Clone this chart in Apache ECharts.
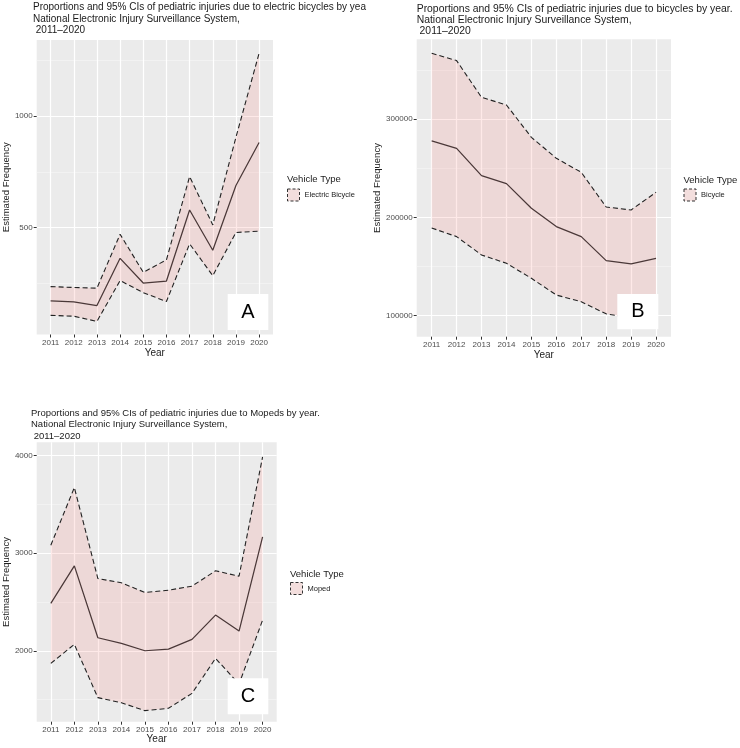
<!DOCTYPE html>
<html><head><meta charset="utf-8">
<script src="https://cdn.jsdelivr.net/npm/echarts@6/dist/echarts.min.js"></script>
<style>html,body{margin:0;padding:0;background:#fff}#c{width:740px;height:748px}</style>
</head><body><div id="c"></div>
<script>
// ---- data ----
const years = [2011, 2012, 2013, 2014, 2015, 2016, 2017, 2018, 2019, 2020];

const ebikeMean  = [171, 166, 150, 362, 251, 260, 579, 398, 689, 882];
const ebikeUpper = [235, 231, 228, 470, 299, 355, 729, 512, 905, 1283];
const ebikeLower = [106, 102, 79, 262, 208, 168, 427, 284, 478, 484];
const ebikeTicks = [500, 1000];
const ebikeMinor = [250, 750, 1250];

const bikeMean  = [277900, 270400, 242500, 234400, 209200, 190500, 180300, 155800, 152400, 158200];
const bikeUpper = [367300, 359900, 322400, 314600, 281600, 260200, 245900, 210500, 207500, 225500];
const bikeLower = [189100, 180300, 161600, 153100, 137800, 120700, 113900, 101500, 97500, 92000];
const bikeTicks = [100000, 200000, 300000];
const bikeMinor = [150000, 250000, 350000];

const mopedMean  = [2484, 2869, 2133, 2075, 2000, 2017, 2116, 2365, 2201, 3165];
const mopedUpper = [3080, 3670, 2739, 2695, 2596, 2620, 2661, 2818, 2763, 3983];
const mopedLower = [1871, 2065, 1520, 1468, 1387, 1411, 1564, 1922, 1660, 2313];
const mopedTicks = [2000, 3000, 4000];
const mopedMinor = [1500, 2500, 3500];

const titleA = 'Proportions and 95% CIs of pediatric injuries due to electric bicycles by yea\nNational Electronic Injury Surveillance System,\n 2011\u20132020';
const titleB = 'Proportions and 95% CIs of pediatric injuries due to bicycles by year.\nNational Electronic Injury Surveillance System,\n 2011\u20132020';
const titleC = 'Proportions and 95% CIs of pediatric injuries due to Mopeds by year.\nNational Electronic Injury Surveillance System,\n 2011\u20132020';

// ---- layout / style ----
const FONT = 'Liberation Sans';
const RIBBON = 'rgba(248,118,109,0.16)';
const panels = [
  { name: 'Electric Bicycle', letter: 'A', title: titleA, tfs: 10, tLeft: 33, tTop: 2,
    mean: ebikeMean, upper: ebikeUpper, lower: ebikeLower, ticks: ebikeTicks, minor: ebikeMinor,
    grid: { left: 33, top: 40, width: 240, height: 294.5 }, yMin: 20, yMax: 1342,
    yNameGap: 19, xNameGap: 14,
    leg: { left: 287, top: 188.5 }, legTitle: { left: 287, top: 174.5 },
    box: { x: 227.7, y: 294, w: 40.6, h: 36 } },
  { name: 'Bicycle', letter: 'B', title: titleB, tfs: 10.4, tLeft: 416.7, tTop: 3.5,
    mean: bikeMean, upper: bikeUpper, lower: bikeLower, ticks: bikeTicks, minor: bikeMinor,
    grid: { left: 416.7, top: 39.3, width: 254.3, height: 297.4 }, yMin: 78200, yMax: 381600,
    yNameGap: 27, xNameGap: 14,
    leg: { left: 683.5, top: 188.5 }, legTitle: { left: 683.5, top: 175.5 },
    box: { x: 617.3, y: 294, w: 41, h: 35.3 } },
  { name: 'Moped', letter: 'C', title: titleC, tfs: 9.5, tLeft: 31, tTop: 408,
    mean: mopedMean, upper: mopedUpper, lower: mopedLower, ticks: mopedTicks, minor: mopedMinor,
    grid: { left: 31.7, top: 442.3, width: 245, height: 279.4 }, yMin: 1274, yMax: 4133,
    yNameGap: 19, xNameGap: 13,
    leg: { left: 290, top: 582 }, legTitle: { left: 290, top: 569.5 },
    box: { x: 227.7, y: 678.3, w: 40.6, h: 36 } }
];

const pairs = (arr) => years.map((y, k) => [y, arr[k]]);
const fmt = (v) => String(v);

const option = {
  animation: false,
  backgroundColor: '#ffffff',
  textStyle: { fontFamily: FONT },
  title: [],
  legend: [],
  grid: [],
  xAxis: [],
  yAxis: [],
  series: [],
  graphic: []
};

panels.forEach((p, i) => {
  option.title.push({
    text: p.title, left: p.tLeft, top: p.tTop, padding: 0,
    textStyle: { fontSize: p.tfs, fontWeight: 'normal', color: '#1a1a1a', lineHeight: 11.2, fontFamily: FONT }
  });
  option.title.push({
    text: 'Vehicle Type', left: p.legTitle.left, top: p.legTitle.top, padding: 0,
    textStyle: { fontSize: 9.5, fontWeight: 'normal', color: '#222', fontFamily: FONT }
  });
  option.legend.push({
    data: [p.name], left: p.leg.left, top: p.leg.top, padding: 0,
    itemWidth: 12, itemHeight: 12, icon: 'rect', selectedMode: false,
    itemStyle: { color: '#F3DEDD', borderColor: '#333', borderWidth: 1, borderType: [3, 2] },
    textStyle: { fontSize: 7.5, color: '#222', fontFamily: FONT }
  });
  option.grid.push(Object.assign({ show: true, backgroundColor: '#EBEBEB', borderWidth: 0 }, p.grid));
  option.xAxis.push({
    gridIndex: i, type: 'value', min: 2010.4, max: 2020.6,
    name: 'Year', nameLocation: 'middle', nameGap: p.xNameGap,
    nameTextStyle: { fontSize: 10, color: '#222', fontFamily: FONT },
    axisLine: { show: false },
    axisTick: { show: true, length: 3, lineStyle: { color: '#333', width: 1 }, customValues: years },
    axisLabel: { customValues: years, formatter: fmt, fontSize: 8, color: '#4D4D4D', margin: 4, fontFamily: FONT },
    splitLine: { show: true, lineStyle: { color: '#ffffff', width: 1.2 } }
  });
  option.yAxis.push({
    gridIndex: i, type: 'value', min: p.yMin, max: p.yMax, position: 'left',
    name: 'Estimated Frequency', nameLocation: 'middle', nameRotate: 90, nameGap: p.yNameGap,
    nameTextStyle: { fontSize: 9.5, color: '#222', fontFamily: FONT },
    axisLine: { show: false },
    axisTick: { show: true, length: 3, lineStyle: { color: '#333', width: 1 }, customValues: p.ticks },
    axisLabel: { customValues: p.ticks, formatter: fmt, fontSize: 8, color: '#4D4D4D', margin: 4, fontFamily: FONT },
    splitLine: { show: true, lineStyle: { color: '#ffffff', width: 1.2 } }
  });
  option.yAxis.push({
    gridIndex: i, type: 'value', min: p.yMin, max: p.yMax, position: 'right',
    axisLine: { show: false },
    axisTick: { show: false, customValues: p.minor },
    axisLabel: { show: false, customValues: p.minor },
    splitLine: { show: true, lineStyle: { color: '#F7F7F7', width: 0.6 } }
  });
  const xi = i, yi = 2 * i;
  const lo = p.lower, up = p.upper;
  // ribbon between lower and upper CI, built through the axes' scales
  option.series.push({
    type: 'custom', name: p.name, xAxisIndex: xi, yAxisIndex: yi, silent: true, z: 2,
    itemStyle: { color: RIBBON },
    data: years.map((y, k) => [y, lo[k], up[k]]),
    encode: { x: 0, y: [1, 2] },
    renderItem: function (params, api) {
      if (params.dataIndex !== 0) return null;
      const pts = [];
      for (let k = 0; k < years.length; k++) pts.push(api.coord([years[k], up[k]]));
      for (let k = years.length - 1; k >= 0; k--) pts.push(api.coord([years[k], lo[k]]));
      return { type: 'polygon', shape: { points: pts }, style: { fill: RIBBON } };
    }
  });
  option.series.push({
    type: 'line', name: p.name + ' lower', xAxisIndex: xi, yAxisIndex: yi,
    data: pairs(p.lower), symbol: 'none', silent: true, z: 3,
    lineStyle: { color: '#222', width: 1.1, type: [5, 3] }
  });
  option.series.push({
    type: 'line', name: p.name + ' upper', xAxisIndex: xi, yAxisIndex: yi,
    data: pairs(p.upper), symbol: 'none', silent: true, z: 3,
    lineStyle: { color: '#222', width: 1.1, type: [5, 3] }
  });
  option.series.push({
    type: 'line', name: p.name + ' mean', xAxisIndex: xi, yAxisIndex: yi,
    data: pairs(p.mean), symbol: 'none', silent: true, z: 4,
    lineStyle: { color: '#4a3838', width: 1.25 }
  });
  option.graphic.push({
    type: 'group', left: p.box.x, top: p.box.y, z: 100,
    children: [
      { type: 'rect', z: 100, shape: { x: 0, y: 0, width: p.box.w, height: p.box.h }, style: { fill: '#ffffff' } },
      { type: 'text', z: 101, x: p.box.w / 2, y: p.box.h / 2,
        style: { text: p.letter, align: 'center', verticalAlign: 'middle', fontSize: 20, fill: '#000', fontFamily: FONT } }
    ]
  });
});

const chart = echarts.init(document.getElementById('c'), null, { renderer: 'canvas' });
chart.setOption(option);
</script>
</body></html>
